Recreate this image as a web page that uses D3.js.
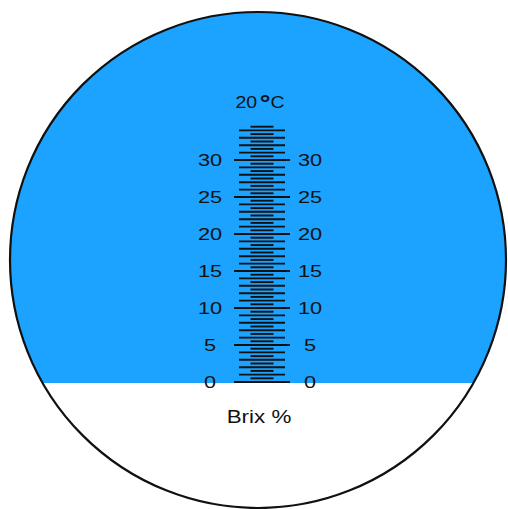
<!DOCTYPE html>
<html>
<head>
<meta charset="utf-8">
<script src="https://cdn.jsdelivr.net/npm/d3@7"></script>
<style>
html,body{margin:0;padding:0;background:#fff;}
svg{display:block;}
</style>
</head>
<body>
<svg id="chart" width="508" height="509"></svg>
<script>
// Data
const scaleDomain = [0, 34.5];          // Brix % range of the reticle
const tickStep = [0.5];                 // graduation spacing
const majorLabels = [0, 5, 10, 15, 20, 25, 30];
const reading = [0];                    // shadow line (blue above, white below)
const titleText = ["20", "°", "C"];
const unitText = ["Brix %"];

const W = 508, H = 509;
const cx = 258, cy = 260, r = 248;

const svg = d3.select("#chart");
const y = d3.scaleLinear().domain([0, 30]).range([382, 160]);

const defs = svg.append("defs");
defs.append("clipPath").attr("id", "lens")
  .append("circle").attr("cx", cx).attr("cy", cy).attr("r", r);

const g = svg.append("g").attr("clip-path", "url(#lens)");
g.append("rect").attr("x", 0).attr("y", 0).attr("width", W).attr("height", H).attr("fill", "#fff");
g.append("rect").attr("x", 0).attr("y", 0).attr("width", W)
  .attr("height", y(reading[0]) + 1).attr("fill", "#1ba3ff");

svg.append("circle").attr("cx", cx).attr("cy", cy).attr("r", r)
  .attr("fill", "none").attr("stroke", "#111").attr("stroke-width", 2.2);

// graduations
const ticks = d3.range(0, Math.round(scaleDomain[1] / tickStep[0]) + 1).map(i => i * tickStep[0]);
const tx = 262;
function halfLen(v) {
  if (Math.abs(v % 5) < 1e-9) return 28;
  if (Math.abs(v % 1) < 1e-9) return 23;
  return 11.5;
}
svg.append("g").selectAll("line").data(ticks).join("line")
  .attr("x1", d => tx - halfLen(d)).attr("x2", d => tx + halfLen(d))
  .attr("y1", d => y(d)).attr("y2", d => y(d))
  .attr("stroke", "#111").attr("stroke-width", 1.9);

const font = "Liberation Sans, Arial, sans-serif";
const SX = 1.28;
[210, 310].forEach(xp => {
  svg.append("g").selectAll("text").data(majorLabels).join("text")
    .attr("transform", d => `translate(${xp},${y(d)}) scale(${SX},1)`)
    .attr("dy", "0.36em")
    .attr("text-anchor", "middle")
    .attr("font-family", font).attr("font-size", 17).attr("fill", "#111")
    .text(d => d);
});

const t = svg.append("text").attr("transform", `translate(260,108) scale(1.22,1)`)
  .attr("text-anchor", "middle").attr("font-family", font)
  .attr("font-size", 16).attr("fill", "#111");
t.append("tspan").text(titleText[0]);
t.append("tspan").attr("font-size", 22).attr("font-weight", "bold").attr("dx", 2).attr("dy", 3).text(titleText[1]);
t.append("tspan").attr("dy", -3).attr("dx", 0).text(titleText[2]);

svg.append("text").attr("transform", `translate(259,423) scale(1.28,1)`)
  .attr("text-anchor", "middle").attr("font-family", font)
  .attr("font-size", 17.5).attr("fill", "#111").text(unitText[0]);
</script>
</body>
</html>
